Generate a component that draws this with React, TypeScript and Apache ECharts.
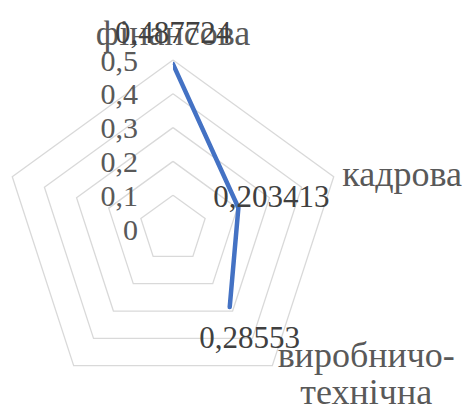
import React, { useEffect, useRef } from "react";
import * as echarts from "echarts";

const categories: string[] = ["фінансова", "кадрова", "виробничо-\nтехнічна", "", ""];
const values: (number | null)[] = [0.487724, 0.203413, 0.28553, null, null];
const valueLabels: string[] = ["0,487724", "0,203413", "0,28553", "", ""];
const radiusTicks: number[] = [0, 0.1, 0.2, 0.3, 0.4, 0.5];
const labelOffsets: [number, number][] = [[0, -32], [33, -11], [20, 30], [0, 0], [0, 0]];

const CX = 173;
const CY = 229;
const R = 169;
const SERIF = "Liberation Serif";

export default function App() {
  const ref = useRef<HTMLDivElement>(null);
  useEffect(() => {
    if (!ref.current) return;
    const chart = echarts.init(ref.current, undefined, { renderer: "svg" });
    const maxV = radiusTicks[radiusTicks.length - 1];
    // radar goes counter-clockwise; order indicators so they read clockwise
    const radarOrder = [0, ...categories.slice(1).map((_, i) => categories.length - 1 - i)];
    const option: any = {
      animation: false,
      backgroundColor: "#ffffff",
      textStyle: { fontFamily: SERIF },
      radar: {
        center: [CX, CY],
        radius: R,
        startAngle: 90,
        shape: "polygon",
        splitNumber: radiusTicks.length - 1,
        nameGap: 9,
        indicator: radarOrder.map((idx) => ({ name: categories[idx], min: 0, max: maxV })),
        axisName: {
          color: "#595959",
          fontSize: 36,
          fontFamily: SERIF,
          formatter: (name: string) =>
            name
              .split("\n")
              .map((l) => `{c|${l}}`)
              .join("\n"),
          rich: {
            c: { align: "center", fontSize: 36, fontFamily: SERIF, color: "#595959", lineHeight: 37 },
          },
        },
        axisLine: { show: false },
        axisTick: { show: false },
        axisLabel: { show: false },
        splitArea: { show: false },
        splitLine: { lineStyle: { color: "#d9d9d9", width: 1.3 } },
      },
      polar: { center: [CX, CY], radius: R },
      angleAxis: {
        type: "category",
        data: categories,
        startAngle: 90,
        clockwise: true,
        boundaryGap: false,
        axisLine: { show: false },
        axisTick: { show: false },
        axisLabel: { show: false },
        splitLine: { show: false },
      },
      radiusAxis: {
        type: "value",
        min: 0,
        max: maxV,
        interval: 0.1,
        axisLine: { show: false },
        axisTick: { show: false },
        splitLine: { show: false },
        axisLabel: {
          show: true,
          margin: 35,
          color: "#595959",
          fontSize: 30,
          fontFamily: SERIF,
          formatter: (v: number) => {
            const i = radiusTicks.findIndex((t) => Math.abs(t - v) < 1e-9);
            return i >= 0 ? String(radiusTicks[i]).replace(".", ",") : "";
          },
        },
      },
      series: [
        {
          type: "line",
          coordinateSystem: "polar",
          symbol: "circle",
          symbolSize: 1,
          showSymbol: true,
          lineStyle: { color: "#4472C4", width: 4.5, cap: "round", join: "round" },
          itemStyle: { color: "#4472C4" },
          data: values
            .map((v, i) =>
              v == null
                ? null
                : {
                    value: [v, categories[i]],
                    label: {
                      show: true,
                      position: "inside",
                      offset: labelOffsets[i],
                      formatter: () => valueLabels[i],
                      color: "#404040",
                      fontSize: 31,
                      fontFamily: SERIF,
                    },
                  }
            )
            .filter((d) => d != null),
        },
      ],
    };
    chart.setOption(option);
    return () => chart.dispose();
  }, []);
  return (
    <div
      ref={ref}
      style={{ width: 467, height: 408, position: "absolute", left: 0, top: 0 }}
    />
  );
}
